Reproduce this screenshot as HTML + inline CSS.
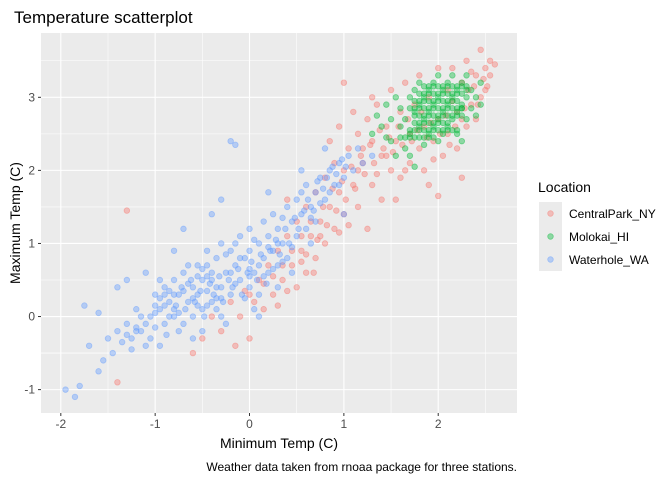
<!DOCTYPE html>
<html><head><meta charset="utf-8">
<style>
body{margin:0;background:#fff;font-family:"Liberation Sans",Arial,sans-serif;}
svg text{font-family:"Liberation Sans",Arial,sans-serif;}
</style></head>
<body>
<svg id="chart" width="672" height="480">
<rect width="672" height="480" fill="#fff"/>
<text x="14" y="23" font-size="17" fill="#000">Temperature scatterplot</text>
<rect x="41" y="33" width="476" height="380" fill="#EBEBEB"/>
<g id="grid"></g>
<g id="pts"></g>
<g id="axes"></g>
<text x="279" y="448" font-size="14" text-anchor="middle">Minimum Temp (C)</text>
<text transform="translate(20,223) rotate(-90)" font-size="14" text-anchor="middle">Maximum Temp (C)</text>
<text x="517" y="471" font-size="12" text-anchor="end">Weather data taken from rnoaa package for three stations.</text>
<g>
<text x="538" y="192" font-size="14">Location</text>
<g id="legend"></g>
</g>
</svg>
<script>
const xTicks=[-2,-1,0,1,2];
const yTicks=[-1,0,1,2,3];
const seriesNames=["CentralPark_NY","Molokai_HI","Waterhole_WA"];
const seriesColors=["#F8766D","#00BA38","#619CFF"];
const waterX=[-1.95,-1.85,-1.8,-1.75,-1.7,-1.6,-1.55,-1.5,-1.45,-1.4,-1.35,-1.3,-1.25,-1.2,-1.15,-1.1,-1.05,-1.0,-1.0,-0.95,-0.9,-0.9,-0.85,-0.8,-0.8,-0.75,-0.7,-0.7,-0.65,-0.6,-0.6,-0.55,-0.55,-0.5,-0.5,-0.45,-0.45,-0.4,-0.4,-0.35,-0.3,-0.3,-0.25,-0.2,-0.2,-0.15,-0.1,-0.1,-0.05,0.0,0.0,0.0,0.05,0.1,0.1,0.15,0.15,0.2,0.2,0.25,0.25,0.3,0.3,0.35,0.4,0.4,0.45,0.5,0.5,0.55,0.6,0.6,0.65,0.7,0.7,0.75,0.8,0.85,0.9,0.95,1.0,1.05,1.1,1.15,1.2,1.3,-0.2,-0.15,-0.3,-0.8,-1.3,-0.6,-0.3,0.05,0.3,-1.1,-0.95,-0.5,0.45,-0.7,-0.4,0.2,0.55,0.8,-1.6,-1.4,-0.25,0.1,0.65,1.0,-0.65,-0.35,-0.15,0.0,-0.55,-0.45,-0.75,0.35,-1.2,-0.85];
const waterY=[-1.0,-1.1,-0.95,0.15,-0.4,-0.75,-0.6,-0.3,-0.5,-0.2,-0.35,-0.1,-0.3,0.1,-0.2,-0.4,0.0,-0.15,0.3,0.1,-0.1,0.4,0.2,0.0,0.5,0.3,-0.1,0.6,0.2,0.4,0.0,0.7,0.3,0.1,0.5,0.9,0.35,0.6,0.2,0.8,0.4,1.0,0.6,0.3,0.9,0.7,0.5,1.1,0.8,0.4,1.2,0.9,0.6,1.0,0.3,1.3,0.8,0.6,1.1,1.4,0.9,0.7,1.2,1.0,1.5,0.8,1.3,1.1,1.6,1.4,1.2,1.8,1.5,1.7,1.3,1.9,1.6,2.0,1.8,2.1,1.9,2.2,2.0,2.3,2.1,2.2,2.4,2.35,1.6,0.9,0.5,-0.3,0.0,0.1,0.4,0.6,-0.4,-0.2,0.6,1.2,1.4,1.7,2.0,2.3,0.05,0.4,-0.1,0.0,1.0,1.4,0.45,0.25,0.45,0.65,0.15,0.55,0.05,0.75,-0.15,0.35];
const waterXb=[-1.0,-0.95,-0.9,-0.85,-0.8,-0.78,-0.72,-0.68,-0.62,-0.58,-0.52,-0.48,-0.42,-0.38,-0.32,-0.28,-0.22,-0.18,-0.12,-0.08,-0.02,0.02,0.08,0.12,0.18,0.22,0.28,0.32,0.38,0.42,0.48,0.52,0.58,0.62,0.68,0.72,0.78,0.82,0.88,0.92,0.98,1.02,-1.25,-1.15,-1.05,-0.95,-0.88,-0.75,-0.65,-0.55,-0.45,-0.35,-0.25,-0.15,-0.05,0.05,0.15,0.25,0.35,0.45,-0.6,-0.5,-0.4,-0.3,-0.2,-0.1,0.0,0.1,0.2,0.3,-0.7,-0.8,-0.9,-1.0,-1.1,-1.2,-1.3,-0.45,-0.35,0.55,0.65,0.75,0.85,0.95];
const waterYb=[0.05,0.25,0.15,0.0,0.3,0.15,0.4,0.1,0.5,0.2,0.35,0.0,0.45,0.3,0.55,0.2,0.5,0.4,0.65,0.3,0.6,0.75,0.5,0.85,0.45,0.9,1.05,0.85,1.2,1.0,1.35,1.2,1.45,1.6,1.45,1.85,1.75,1.9,2.05,1.95,2.15,2.05,-0.45,0.0,-0.3,0.5,-0.25,-0.2,0.7,0.55,0.15,0.1,0.85,1.0,0.25,1.05,0.55,0.65,1.35,0.95,0.25,0.65,0.5,0.25,0.6,0.8,0.55,0.7,0.95,1.0,0.35,0.1,0.3,0.15,-0.1,-0.2,-0.25,0.7,0.4,1.7,1.35,1.55,1.7,1.8];
const cpX=[-1.3,-1.4,-0.6,-0.5,-0.4,-0.3,-0.2,-0.1,0.0,0.0,0.1,0.15,0.2,0.25,0.3,0.35,0.4,0.45,0.5,0.5,0.55,0.6,0.65,0.7,0.7,0.75,0.8,0.8,0.85,0.9,0.9,0.95,1.0,1.0,1.05,1.1,1.15,1.15,1.2,1.25,1.3,1.3,1.35,1.4,1.4,1.45,1.5,1.5,1.55,1.6,1.6,1.65,1.7,1.7,1.75,1.8,1.8,1.85,1.9,1.9,1.95,2.0,2.0,2.05,2.1,2.1,2.15,2.2,2.2,2.25,2.3,2.3,2.35,2.4,2.4,2.45,2.5,2.55,2.55,2.6,2.45,1.0,1.3,1.1,0.95,2.0,2.25,0.6,0.3,-0.15,0.85,1.25,1.55,0.4,1.85,2.5,2.35,1.2,1.45,0.75];
const cpY=[1.45,-0.9,-0.5,-0.3,0.0,-0.2,0.2,0.0,0.3,-0.3,0.5,0.1,0.7,0.3,0.9,0.5,1.1,0.7,1.3,0.4,0.9,1.5,1.1,0.8,1.7,1.3,1.9,1.0,1.5,2.1,1.2,1.7,2.0,1.4,2.3,1.8,2.5,1.5,2.1,2.7,1.8,2.4,2.9,2.2,1.6,2.6,2.0,3.1,2.4,2.8,1.9,3.2,2.5,2.1,2.9,2.3,3.3,2.6,1.8,3.0,2.4,3.4,2.7,2.2,3.1,2.5,3.4,2.8,2.3,3.2,2.6,3.5,2.9,3.3,2.7,3.0,3.4,3.5,3.3,3.45,3.65,3.2,3.0,2.8,2.6,1.65,1.9,0.6,0.15,-0.4,2.4,1.2,1.6,1.6,2.0,3.1,3.35,2.3,2.2,1.1];
const cpXb=[0.35,0.45,0.55,0.6,0.65,0.72,0.78,0.82,0.88,0.92,0.98,1.02,1.08,1.12,1.18,1.22,1.28,1.32,1.38,1.42,1.48,1.52,1.58,1.62,1.68,1.72,1.78,1.82,1.88,1.92,2.02,2.08,2.12,2.18,2.28,2.32,2.38,2.42,2.48,2.52,0.15,0.25,0.05,-0.05,0.68,0.55,0.4,1.05,1.35,1.65,1.95,2.15,2.25,1.15,0.95];
const cpYb=[0.7,0.9,1.1,0.85,1.3,1.05,1.5,1.25,1.75,1.45,1.85,1.6,2.05,1.75,2.2,1.95,2.35,2.1,2.55,2.3,2.45,2.25,2.6,2.35,2.7,2.4,2.55,2.8,2.45,2.65,2.5,2.75,2.35,2.6,2.85,3.1,3.15,2.9,3.25,3.15,0.45,0.55,0.2,0.35,0.6,0.75,0.35,1.25,1.95,2.0,2.15,2.95,2.7,2.0,1.15];
const molX=[1.3,1.35,1.4,1.45,1.5,1.5,1.55,1.6,1.6,1.65,1.65,1.7,1.7,1.75,1.75,1.8,1.8,1.8,1.85,1.85,1.9,1.9,1.9,1.95,1.95,1.95,2.0,2.0,2.0,2.0,2.05,2.05,2.1,2.1,2.1,2.15,2.15,2.15,2.2,2.2,2.2,2.25,2.25,2.3,2.3,2.3,2.35,2.35,2.4,2.4,2.45,2.45,1.55,1.45,1.7,1.85,2.05,1.75,2.25,1.75,1.8,1.85,1.9,1.95,2.0,2.05,2.1,2.15,2.2,1.75,1.8,1.85,1.9,1.95,2.0,2.05,2.1,2.15,2.2,2.25,1.8,1.85,1.9,1.95,2.0,2.05,2.1,2.15,2.2,2.25,1.8,1.85,1.9,1.95,2.0,2.05,2.1,1.7,1.75,2.25,2.3];
const molY=[2.5,2.75,2.6,2.9,2.7,2.4,3.0,2.6,2.85,2.3,2.7,3.0,2.5,2.8,3.1,2.6,2.9,3.2,2.7,3.0,2.5,2.8,3.1,2.6,2.9,3.2,2.7,3.0,3.3,2.4,2.8,3.1,2.6,2.9,3.2,2.7,3.0,3.3,2.8,3.1,2.5,2.9,3.2,2.7,3.0,3.3,2.85,3.1,2.75,3.0,2.9,3.2,2.2,2.45,2.2,2.35,2.5,2.05,2.4,2.95,2.95,2.95,2.95,2.95,2.95,2.95,2.95,2.95,2.95,2.75,2.75,2.75,2.75,2.75,2.75,2.75,2.75,2.75,2.75,2.75,3.05,3.05,3.05,3.05,3.05,3.05,3.05,3.05,3.05,3.05,2.65,2.65,2.65,2.65,2.65,2.65,2.65,2.85,2.65,2.85,3.1];
const molXb=[1.75,1.8,1.85,1.9,1.95,2.0,2.05,2.1,2.15,2.2,2.25,1.7,1.75,1.8,1.85,1.9,1.95,2.0,2.05,2.1,2.15,2.2,1.85,1.9,1.95,2.0,2.05,2.1,2.15,2.2,2.25,2.3,1.6,1.65,1.7,1.75,1.8,1.85,1.9,1.95];
const molYb=[2.85,2.85,2.85,2.85,2.85,2.85,2.85,2.85,2.85,2.85,2.85,2.55,2.55,2.55,2.55,2.55,2.55,2.55,2.55,2.55,2.55,2.55,3.15,3.15,3.15,3.15,3.15,3.15,3.15,3.15,3.15,3.15,2.45,2.45,2.45,2.45,2.45,2.45,2.45,2.45];

const NS="http://www.w3.org/2000/svg";
const px0=41,px1=517,py0=33,py1=413;
const xMin=-2.21,xMax=2.835,yMin=-1.32,yMax=3.88;
function sx(v){return px0+(v-xMin)/(xMax-xMin)*(px1-px0);}
function sy(v){return py1-(v-yMin)/(yMax-yMin)*(py1-py0);}
function mk(tag,attrs,parent){const e=document.createElementNS(NS,tag);for(const k in attrs)e.setAttribute(k,attrs[k]);parent.appendChild(e);return e;}
const grid=document.getElementById('grid'),axes=document.getElementById('axes'),pts=document.getElementById('pts');
for(let i=0;i<xTicks.length;i++){
  const t=xTicks[i];
  const m=mk('line',{x1:sx(t+0.5),x2:sx(t+0.5),y1:py0,y2:py1,stroke:'#fff','stroke-width':0.55},grid);
  
  
  const g=mk('line',{x1:sx(t),x2:sx(t),y1:py0,y2:py1,stroke:'#fff','stroke-width':1.1},grid);
  
  
  const tk=mk('line',{x1:sx(t),x2:sx(t),y1:py1,y2:py1+3,stroke:'#333','stroke-width':1},axes);
  
  
  const lb=mk('text',{x:sx(t),y:py1+15,'font-size':12,'text-anchor':'middle',fill:'#4D4D4D'},axes);
  lb.textContent=t;
  
  
}
mk('line',{x1:sx(-2.5),x2:sx(-2.5),y1:py0,y2:py1,stroke:'#fff','stroke-width':0.55},grid);
for(let i=0;i<yTicks.length;i++){
  const t=yTicks[i];
  const m=mk('line',{x1:px0,x2:px1,y1:sy(t+0.5),y2:sy(t+0.5),stroke:'#fff','stroke-width':0.55},grid);
  
  
  const g=mk('line',{x1:px0,x2:px1,y1:sy(t),y2:sy(t),stroke:'#fff','stroke-width':1.1},grid);
  
  
  const tk=mk('line',{x1:px0-3,x2:px0,y1:sy(t),y2:sy(t),stroke:'#333','stroke-width':1},axes);
  
  
  const lb=mk('text',{x:px0-6,y:sy(t)+4,'font-size':12,'text-anchor':'end',fill:'#4D4D4D'},axes);
  lb.textContent=t;
  
  
}
mk('line',{x1:px0,x2:px1,y1:sy(-0.5),y2:sy(-0.5),stroke:'#fff','stroke-width':0.55},grid);
const series=[[cpX.concat(cpXb),cpY.concat(cpYb)],[molX.concat(molXb),molY.concat(molYb)],[waterX.concat(waterXb),waterY.concat(waterYb)]];
for(let s=0;s<series.length;s++){
  const X=series[s][0],Y=series[s][1];
  for(let i=0;i<X.length;i++){
    const c=mk('circle',{cx:sx(X[i]),cy:sy(Y[i]),r:2.8,fill:seriesColors[s],'fill-opacity':0.4,stroke:seriesColors[s],'stroke-opacity':0.45,'stroke-width':0.8},pts);
    
    
  }
}
const lg=document.getElementById('legend');
for(let s=0;s<seriesNames.length;s++){
  const y=202+s*23;
  const k=mk('rect',{x:539,y:y,width:23,height:23,fill:'#EBEBEB'},lg);
  
  
  mk('circle',{cx:550.5,cy:y+11.5,r:2.8,fill:seriesColors[s],'fill-opacity':0.4,stroke:seriesColors[s],'stroke-opacity':0.45,'stroke-width':0.8},lg);
  const t=mk('text',{x:569,y:y+16,'font-size':12,fill:'#000'},lg);
  t.textContent=seriesNames[s];
  
  
}
</script>
</body></html>
